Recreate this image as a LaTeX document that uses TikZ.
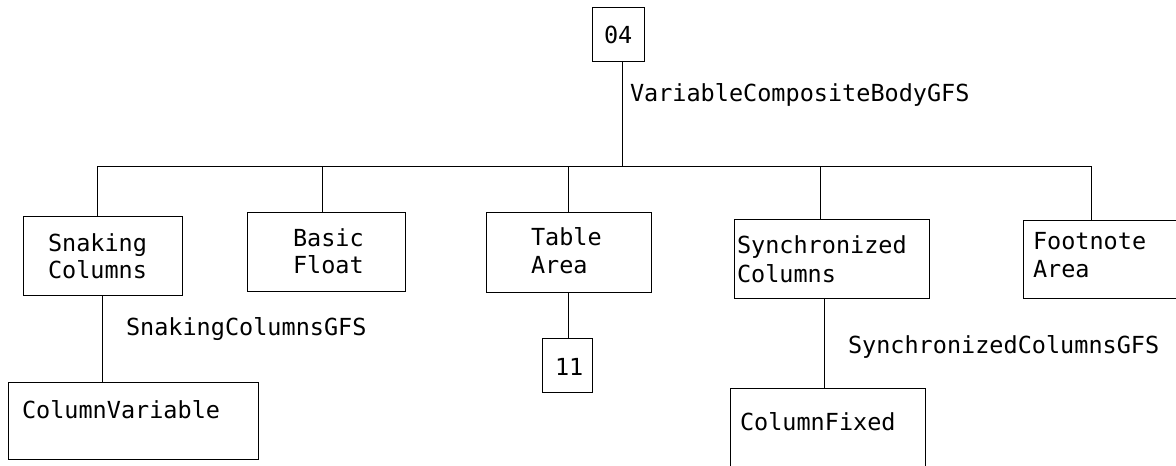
\documentclass[tikz,border=0pt]{standalone}
\usepackage{fontspec}
\newfontfamily\dvm{DejaVu Sans Mono}
\begin{document}
\begin{tikzpicture}[x=1pt,y=-1pt,
  box/.style={draw=black,line width=1pt,inner sep=0pt,outer sep=0pt,fill=none},
  lbl/.style={anchor=base west,inner sep=0pt,outer sep=0pt,font=\dvm\fontsize{23.5}{28}\selectfont,text=black},
  conn/.style={draw=black,line width=1pt}]
\useasboundingbox (0,0) rectangle (1176,466);
\clip (0,0) rectangle (1176,466);
% boxes
\node[box,minimum width=52,minimum height=54] (n04) at (618,34) {};
\node[box,minimum width=159,minimum height=79] (snake) at (102.5,255.5) {};
\node[box,minimum width=158,minimum height=79] (basic) at (326,251.5) {};
\node[box,minimum width=165,minimum height=80] (table) at (568.5,252) {};
\node[box,minimum width=50,minimum height=54] (n11) at (567,365) {};
\node[box,minimum width=195,minimum height=79] (sync) at (831.5,258.5) {};
\node[box,minimum width=177,minimum height=78] (foot) at (1111.5,259) {};
\node[box,minimum width=250,minimum height=77] (colvar) at (133,420.5) {};
\node[box,minimum width=195,minimum height=112] (colfix) at (827.5,444) {};
% labels
\node[lbl] (t04) at (604,43) {04};
\node[lbl] (tvc) at (630,101) {VariableCompositeBodyGFS};
\node[lbl] (ts1) at (48,251) {Snaking};
\node[lbl] (ts2) at (48,278) {Columns};
\node[lbl] (tb1) at (293,246) {Basic};
\node[lbl] (tb2) at (293,273) {Float};
\node[lbl] (tt1) at (531,245) {Table};
\node[lbl] (tt2) at (531,273) {Area};
\node[lbl] (t11) at (555,375) {11};
\node[lbl] (tsy1) at (737,253) {Synchronized};
\node[lbl] (tsy2) at (737,282) {Columns};
\node[lbl] (tf1) at (1033,249) {Footnote};
\node[lbl] (tf2) at (1033,277) {Area};
\node[lbl] (tscg) at (126,335) {SnakingColumnsGFS};
\node[lbl] (tsycg) at (848,353) {SynchronizedColumnsGFS};
\node[lbl] (tcv) at (22,418) {ColumnVariable};
\node[lbl] (tcf) at (740,430) {ColumnFixed};
% bus junctions
\coordinate (jtop) at (622,166);
\coordinate (jsnake) at (97,166);
\coordinate (jbasic) at (322,166);
\coordinate (jtable) at (568,166);
\coordinate (jsync) at (820,166);
\coordinate (jfoot) at (1091,166);
\coordinate (dsnake) at (102,0);
\coordinate (dtable) at (568,0);
\coordinate (dsync) at (824,0);
% connectors
\draw[conn] (jtop |- n04.south) -- (jtop);
\draw[conn] (jsnake) -- (jfoot);
\draw[conn] (jsnake) -- (jsnake |- snake.north);
\draw[conn] (jbasic) -- (jbasic |- basic.north);
\draw[conn] (jtable) -- (jtable |- table.north);
\draw[conn] (jsync) -- (jsync |- sync.north);
\draw[conn] (jfoot) -- (jfoot |- foot.north);
\draw[conn] (dsnake |- snake.south) -- (dsnake |- colvar.north);
\draw[conn] (dtable |- table.south) -- (dtable |- n11.north);
\draw[conn] (dsync |- sync.south) -- (dsync |- colfix.north);
\end{tikzpicture}
\end{document}
